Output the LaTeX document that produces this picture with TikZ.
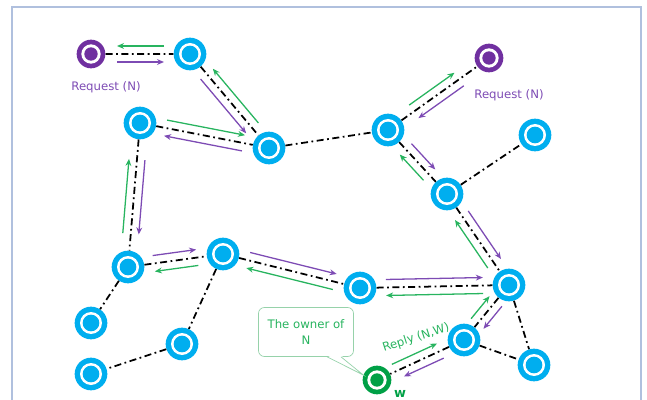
\documentclass[tikz,border=0pt]{standalone}
\usepackage{fontspec}
\setmainfont{DejaVu Sans}
\usetikzlibrary{arrows.meta,calc}

\definecolor{peerblue}{RGB}{0,174,239}
\definecolor{reqpurple}{RGB}{112,48,160}
\definecolor{msgpurple}{RGB}{125,75,180}
\definecolor{msggreen}{RGB}{40,180,95}
\definecolor{ownergreen}{RGB}{0,160,70}
\definecolor{notegreen}{RGB}{150,210,170}
\definecolor{framecol}{RGB}{176,192,222}

\tikzset{
  peer/.style={circle, inner sep=0pt, minimum size=0.98cm, fill=peerblue,
    path picture={\fill[white] (path picture bounding box.center) circle (0.33cm);
      \fill[peerblue] (path picture bounding box.center) circle (0.25cm);}},
  endpeer/.style={circle, inner sep=0pt, minimum size=0.86cm, fill=#1,
    path picture={\fill[white] (path picture bounding box.center) circle (0.29cm);
      \fill[#1] (path picture bounding box.center) circle (0.2cm);}},
  link/.style={line width=1.5pt, dash pattern=on 6pt off 3pt on 1.5pt off 3pt},
  msg/.style={line width=1.1pt, -{Stealth[length=6pt,width=5pt]},
    shorten <=0.78cm, shorten >=0.78cm},
  onleft/.style={to path={($(\tikztostart)!0.24cm!90:(\tikztotarget)$)
    -- ($(\tikztotarget)!0.24cm!-90:(\tikztostart)$)}},
  onright/.style={to path={($(\tikztostart)!0.24cm!-90:(\tikztotarget)$)
    -- ($(\tikztotarget)!0.24cm!90:(\tikztostart)$)}},
  label text/.style={font=\fontsize{10}{13.5}\selectfont, inner sep=1pt},
  notebox/.style={label text, text=msggreen, draw=notegreen, fill=white,
    line width=0.6pt, rounded corners=5pt, align=center,
    minimum width=2.85cm, minimum height=1.47cm}
}

\begin{document}
\begin{tikzpicture}[x=0.03cm, y=-0.03cm]
    \useasboundingbox (0,0) rectangle (647,400);
    \clip (0,0) rectangle (647,400);

    % Rahmen
    \draw[framecol, line width=0.9pt] (12,7) rectangle (641,430);

    % Knoten
    \node[endpeer=reqpurple] (p1) at (91,54) {};
    \node[endpeer=reqpurple] (p2) at (489,58) {};
    \node[peer] (a) at (190,54) {};
    \node[peer] (b) at (140,123) {};
    \node[peer] (c) at (269,148) {};
    \node[peer] (d) at (388,130) {};
    \node[peer] (e) at (535,135) {};
    \node[peer] (f) at (447,194) {};
    \node[peer] (g) at (128,267) {};
    \node[peer] (h) at (223,254) {};
    \node[peer] (i) at (360,288) {};
    \node[peer] (j) at (509,285) {};
    \node[peer] (k) at (91,323) {};
    \node[peer] (l) at (182,344) {};
    \node[peer] (m) at (464,340) {};
    \node[peer] (n) at (534,365) {};
    \node[peer] (o) at (91,374) {};
    \node[endpeer=ownergreen] (w) at (377,380) {};

    % Verbindungen
    \draw[link] (p1) -- (a) (a) -- (c) (b) -- (c) (c) -- (d)
        (d) -- (p2) (d) -- (f) (f) -- (e) (f) -- (j)
        (b) -- (g) (g) -- (h) (g) -- (k) (h) -- (l) (l) -- (o)
        (h) -- (i) (i) -- (j) (j) -- (m) (j) -- (n) (m) -- (n) (m) -- (w);

    % Anfrage (lila) und Antwort (gruen)
    \draw[msg, msgpurple] (p1) to[onright] (a);
    \draw[msg, msggreen] (a) to[onright] (p1);
    \draw[msg, msgpurple] (a) to[onright] (c);
    \draw[msg, msggreen] (c) to[onright] (a);
    \draw[msg, msggreen] (b) to[onleft] (c);
    \draw[msg, msgpurple] (c) to[onleft] (b);
    \draw[msg, msgpurple, shorten <=1.1cm, shorten >=1cm] (b) to[onleft] (g);
    \draw[msg, msggreen, shorten <=1cm, shorten >=1.1cm] (g) to[onleft] (b);
    \draw[msg, msgpurple] (g) to[onleft] (h);
    \draw[msg, msggreen] (h) to[onleft] (g);
    \draw[msg, msgpurple] (h) to[onleft] (i);
    \draw[msg, msggreen] (i) to[onleft] (h);
    \draw[msg, msgpurple] (i) to[onleft] (j);
    \draw[msg, msggreen] (j) to[onleft] (i);
    \draw[msg, msgpurple] (f) to[onleft] (j);
    \draw[msg, msggreen] (j) to[onleft] (f);
    \draw[msg, msgpurple] (d) to[onleft] (f);
    \draw[msg, msggreen] (f) to[onleft] (d);
    \draw[msg, msggreen, shorten <=0.95cm, shorten >=1.1cm] (d) to[onleft] (p2);
    \draw[msg, msgpurple, shorten <=1.1cm, shorten >=0.95cm] (p2) to[onleft] (d);
    \draw[msg, msggreen, shorten <=0.63cm, shorten >=0.63cm] (m) to[onleft] (j);
    \draw[msg, msgpurple, shorten <=0.63cm, shorten >=0.63cm] (j) to[onleft] (m);
    \draw[msg, msggreen, shorten <=0.6cm] (w) to[onleft] (m);
    \draw[msg, msgpurple] (m) to[onleft] (w);

    % Beschriftungen
    \node[label text, text=msgpurple] (req1) at (106,87) {Request (N)};
    \node[label text, text=msgpurple] (req2) at (509,95) {Request (N)};
    \node[label text, text=msggreen, rotate=18] (reply) at (416,338) {Reply (N,W)};
    \node[label text, text=ownergreen, font=\fontsize{11}{13}\selectfont\bfseries]
        (wname) at (400,394) {w};

    % Sprechblase
    \node[notebox] (note) at (306,332) {The owner of\\N};
    \fill[white] ($(note.south)+(21,-1.5)$) -- (w.160) -- ($(note.south)+(35,-1.5)$) -- cycle;
    \draw[notegreen, line width=0.6pt] ($(note.south)+(21,0)$) -- (w.160)
        -- ($(note.south)+(35,0)$);
\end{tikzpicture}
\end{document}
